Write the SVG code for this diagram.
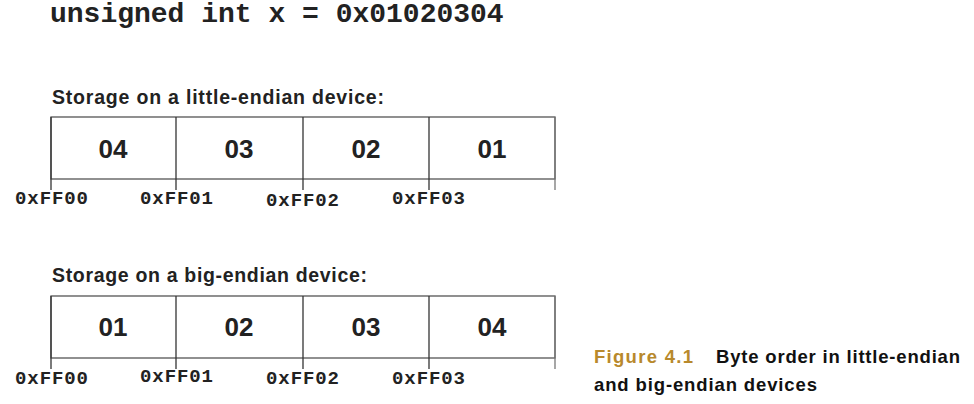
<svg xmlns="http://www.w3.org/2000/svg" width="974" height="404" viewBox="0 0 974 404">
<style>
.code{font-family:"Liberation Mono","Courier New",monospace;font-weight:bold;font-size:28px;fill:#222}
.head{font-family:"Liberation Sans",Arial,sans-serif;font-weight:bold;font-size:19.5px;fill:#222}
.val{font-family:"Liberation Sans",Arial,sans-serif;font-weight:bold;font-size:26px;fill:#222;text-anchor:middle}
.addr{font-family:"Liberation Mono","Courier New",monospace;font-weight:bold;font-size:19px;fill:#222}
.box{fill:#fff;stroke:#555;stroke-width:1.3}
.tick{stroke:#333;stroke-width:1.3}
.cap{font-family:"Liberation Sans",Arial,sans-serif;font-weight:bold;font-size:18.5px;fill:#111}
.fig{fill:#b8892c}
</style>
<text class="code" x="50" y="22">unsigned int x = 0x01020304</text>

<g id="little-endian">
<text class="head" x="52" y="104" textLength="332" lengthAdjust="spacing">Storage on a little-endian device:</text>
<rect class="box" x="51" y="117" width="504" height="62"/>
<g class="tick">
<line x1="51" y1="117" x2="51" y2="190"/>
<line x1="176" y1="117" x2="176" y2="190"/>
<line x1="303" y1="117" x2="303" y2="190"/>
<line x1="429" y1="117" x2="429" y2="190"/>
<line x1="555" y1="117" x2="555" y2="190" stroke="#777"/>
</g>
<text class="val" x="113" y="158">04</text>
<text class="val" x="239" y="158">03</text>
<text class="val" x="366" y="158">02</text>
<text class="val" x="492" y="158">01</text>
<text class="addr" x="15" y="204" textLength="73">0xFF00</text>
<text class="addr" x="140" y="204" textLength="73">0xFF01</text>
<text class="addr" x="266" y="206" textLength="73">0xFF02</text>
<text class="addr" x="392" y="204" textLength="73">0xFF03</text>
</g>

<g id="big-endian">
<text class="head" x="52" y="282" textLength="315" lengthAdjust="spacing">Storage on a big-endian device:</text>
<rect class="box" x="51" y="296" width="504" height="62"/>
<g class="tick">
<line x1="51" y1="296" x2="51" y2="369"/>
<line x1="176" y1="296" x2="176" y2="369"/>
<line x1="303" y1="296" x2="303" y2="369"/>
<line x1="429" y1="296" x2="429" y2="369"/>
<line x1="555" y1="296" x2="555" y2="369" stroke="#777"/>
</g>
<text class="val" x="113" y="336">01</text>
<text class="val" x="239" y="336">02</text>
<text class="val" x="366" y="336">03</text>
<text class="val" x="492" y="336">04</text>
<text class="addr" x="15" y="384" textLength="73">0xFF00</text>
<text class="addr" x="140" y="382" textLength="73">0xFF01</text>
<text class="addr" x="266" y="384" textLength="73">0xFF02</text>
<text class="addr" x="392" y="384" textLength="73">0xFF03</text>
</g>

<g id="caption">
<text class="cap fig" x="594" y="363" textLength="99" lengthAdjust="spacing">Figure 4.1</text>
<text class="cap" x="716" y="363" textLength="244" lengthAdjust="spacing">Byte order in little-endian</text>
<text class="cap" x="594" y="391" textLength="223" lengthAdjust="spacing">and big-endian devices</text>
</g>
</svg>
